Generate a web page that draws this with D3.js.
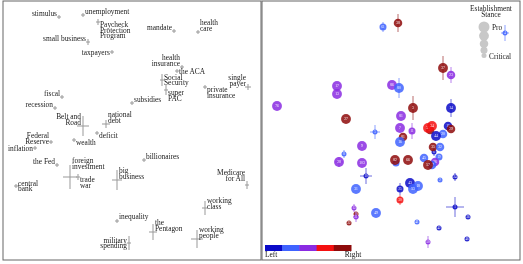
<!DOCTYPE html>
<html>
<head>
<meta charset="utf-8">
<script src="https://cdn.jsdelivr.net/npm/d3@7"></script>
<style>
  body { margin: 0; background: #fff; }
  svg { will-change: transform; }
  text { font-family: "Liberation Serif", "DejaVu Serif", serif; }
</style>
</head>
<body>
<div id="container"></div>
<script>
"use strict";

const width = 523;
const height = 264;

// ---- left panel: words ----
const words = [
  "stimulus", "unemployment", "Paycheck\nProtection\nProgram", "small business", "taxpayers",
  "mandate", "health\ncare", "health\ninsurance", "the ACA", "Social\nSecurity",
  "super\nPAC", "private\ninsurance", "single\npayer", "subsidies", "fiscal",
  "recession", "Belt and\nRoad", "national\ndebt", "deficit", "Federal\nReserve",
  "wealth", "inflation", "the Fed", "foreign\ninvestment", "trade\nwar",
  "big\nbusiness", "billionaires", "central\nbank", "Medicare\nfor All", "working\nclass",
  "inequality", "the\nPentagon", "working\npeople", "military\nspending"
];
const wordX = [
  -0.73, -0.49, -0.34, -0.44, -0.20,
  0.42, 0.66, 0.50, 0.45, 0.30,
  0.34, 0.73, 1.16, 0.00, -0.70,
  -0.77, -0.49, -0.26, -0.35, -0.81,
  -0.58, -0.97, -0.75, -0.62, -0.54,
  -0.15, 0.12, -1.16, 1.15, 0.73,
  -0.15, 0.21, 0.65, -0.03
];
const wordY = [
  1.135, 1.155, 1.085, 0.885, 0.785,
  0.995, 0.985, 0.635, 0.595, 0.505,
  0.405, 0.435, 0.435, 0.275, 0.335,
  0.225, 0.045, 0.065, -0.025, -0.115,
  -0.095, -0.175, -0.345, -0.465, -0.465,
  -0.495, -0.295, -0.555, -0.545, -0.775,
  -0.905, -1.015, -1.085, -1.125
];
const wordErrX = [
  0.02, 0.02, 0.02, 0.02, 0.02,
  0.02, 0.02, 0.02, 0.02, 0.02,
  0.02, 0.02, 0.03, 0.02, 0.02,
  0.02, 0.06, 0.04, 0.02, 0.02,
  0.02, 0.02, 0.02, 0.07, 0.02,
  0.05, 0.02, 0.02, 0.02, 0.03,
  0.02, 0.04, 0.06, 0.02
];
const wordErrY = [
  0.02, 0.02, 0.03, 0.03, 0.02,
  0.02, 0.02, 0.02, 0.02, 0.06,
  0.05, 0.02, 0.03, 0.02, 0.02,
  0.02, 0.10, 0.04, 0.02, 0.02,
  0.02, 0.02, 0.02, 0.12, 0.03,
  0.10, 0.02, 0.02, 0.04, 0.07,
  0.02, 0.08, 0.09, 0.07
];
// label side relative to its point: e/w then n/s/m
const wordPlace = [
  "wn", "en", "es", "wn", "wm",
  "wn", "en", "wn", "em", "em",
  "es", "es", "wn", "en", "wn",
  "wn", "wn", "en", "es", "wn",
  "es", "wm", "wn", "en", "es",
  "en", "en", "em", "wn", "en",
  "en", "en", "en", "wm"
];
// extra vertical nudge of a label (px)
const wordDy = [
  0, 0, 0, 0, 0,
  0, 0, 0, 0, 0,
  0, 0, 0, 0, 0,
  0, 0, 0, 0, 3,
  0, 0, 0, -7, 0,
  0, 0, 0, -3, 2,
  -1, 0, 0, 0
];

// ---- right panel: outlets ----
const outletId = [
  "61", "38", "4", "37", "23", "17", "13", "86", "80", "76",
  "27", "5", "9", "8", "28", "103", "3", "14", "81", "7",
  "11", "33", "34", "39", "15", "29", "44", "20", "81", "16",
  "35", "32", "6", "45", "19", "26", "82", "40", "66", "57",
  "47", "10", "31", "49", "12", "18", "21", "22", "2", "24",
  "43", "48", "53", "25", "30", "1", "36", "41", "42", "46",
  "50"
];
const outletX = [
  -0.08, 0.07, 1.14, 0.52, 0.60, -0.54, -0.54, 0.01, 0.08, -1.14,
  -0.45, -0.16, -0.29, -0.47, -0.52, -0.29, 0.22, 0.60, 0.10, 0.09,
  0.21, 0.37, 0.41, 0.39, 0.57, 0.60, 0.45, 0.52, 0.12, 0.09,
  0.42, 0.49, 0.43, 0.33, 0.48, 0.44, 0.04, 0.05, 0.17, 0.37,
  0.41, -0.25, -0.35, -0.15, -0.37, -0.35, -0.35, -0.42, 0.49, 0.64,
  0.19, 0.27, 0.22, 0.09, 0.09, 0.64, 0.77, 0.26, 0.48, 0.76,
  0.37
];
const outletY = [
  1.035, 1.075, 0.975, 0.625, 0.555, 0.445, 0.365, 0.455, 0.425, 0.245,
  0.115, -0.015, -0.155, -0.235, -0.315, -0.325, 0.225, 0.225, 0.145, 0.025,
  -0.005, 0.025, 0.045, 0.005, 0.045, 0.015, -0.055, -0.035, -0.065, -0.115,
  -0.165, -0.165, -0.215, -0.275, -0.265, -0.315, -0.295, -0.325, -0.295, -0.345,
  -0.345, -0.455, -0.585, -0.825, -0.775, -0.835, -0.865, -0.925, -0.495, -0.465,
  -0.525, -0.555, -0.585, -0.585, -0.695, -0.765, -0.865, -0.915, -0.975, -1.085,
  -1.115
];
const outletErrX = [
  0, 0, 0.04, 0, 0, 0, 0, 0, 0, 0,
  0, 0.05, 0, 0, 0.04, 0, 0, 0, 0, 0,
  0, 0, 0, 0, 0, 0, 0, 0, 0, 0,
  0, 0, 0, 0, 0, 0, 0, 0, 0, 0,
  0, 0.06, 0, 0, 0, 0, 0.03, 0, 0, 0,
  0, 0, 0, 0, 0, 0.09, 0, 0, 0, 0,
  0
];
const outletErrY = [
  0.05, 0.09, 0.08, 0.12, 0.08, 0, 0, 0, 0.10, 0,
  0, 0.07, 0, 0.04, 0.05, 0, 0.12, 0.09, 0, 0,
  0.08, 0, 0, 0, 0, 0, 0, 0, 0, 0,
  0, 0, 0.04, 0, 0, 0, 0, 0, 0, 0,
  0, 0.08, 0, 0, 0.04, 0, 0.05, 0, 0, 0.04,
  0, 0, 0, 0.06, 0.05, 0.10, 0, 0, 0, 0,
  0.06
];
// 0 = Left ... 4 = Right
const outletLean = [
  1, 4, 1, 4, 2, 2, 2, 2, 1, 2,
  4, 1, 2, 1, 2, 2, 4, 0, 2, 2,
  2, 3, 3, 4, 0, 4, 0, 1, 4, 1,
  4, 1, 0, 1, 1, 2, 4, 1, 4, 4,
  1, 0, 1, 1, 2, 4, 2, 4, 1, 0,
  0, 1, 1, 0, 3, 0, 0, 1, 0, 0,
  2
];
// 1 = Critical ... 5 = Pro
const outletStance = [
  2, 3, 1, 4, 3, 4, 4, 4, 4, 4,
  4, 1, 4, 1, 4, 4, 4, 4, 4, 4,
  2, 4, 4, 3, 3, 3, 4, 3, 3, 4,
  3, 3, 1, 3, 2, 3, 4, 2, 4, 4,
  3, 1, 4, 4, 1, 1, 1, 1, 1, 1,
  4, 4, 4, 2, 2, 1, 1, 1, 1, 1,
  1
];

const leanColors = ["#0a0ac8", "#3f63ff", "#8a2be2", "#f41010", "#8e0b0b"];
const leanLabels = ["Left", "Right"];
const stanceLevels = [5, 4, 3, 2, 1];

const svg = d3.select("#container").append("svg")
  .attr("width", width).attr("height", height);

const yScale = d3.scaleLinear().domain([-1.295, 1.295]).range([260, 1]);
const xLeft = d3.scaleLinear().domain([-1.29, 1.29]).range([3, 261]);
const xRight = d3.scaleLinear().domain([-1.29, 1.29]).range([262, 520]);
const rScale = d3.scaleSqrt().domain([1, 5]).range([2.5, 5.5]);
const color = d3.scaleOrdinal().domain(d3.range(5)).range(leanColors);

// frames
[xLeft, xRight].forEach((xs) => {
  svg.append("rect")
    .attr("x", xs.range()[0]).attr("y", yScale.range()[1])
    .attr("width", xs.range()[1] - xs.range()[0])
    .attr("height", yScale.range()[0] - yScale.range()[1])
    .attr("fill", "none").attr("stroke", "#666").attr("stroke-width", 1);
});

// ---- left panel ----
const wordData = words.map((w, i) => ({
  w, x: wordX[i], y: wordY[i], ex: wordErrX[i], ey: wordErrY[i],
  place: wordPlace[i], dy: wordDy[i]
}));

const gw = svg.append("g");
wordData.forEach((d) => {
  const px = xLeft(d.x), py = yScale(d.y);
  gw.append("line")
    .attr("x1", xLeft(d.x - d.ex)).attr("x2", xLeft(d.x + d.ex))
    .attr("y1", py).attr("y2", py)
    .attr("stroke", "#999").attr("stroke-width", 1);
  gw.append("line")
    .attr("x1", px).attr("x2", px)
    .attr("y1", yScale(d.y - d.ey)).attr("y2", yScale(d.y + d.ey))
    .attr("stroke", "#999").attr("stroke-width", 1);

  const lines = d.w.split("\n");
  const lh = 5.6;
  const east = d.place[0] === "e";
  let y0;
  if (d.place[1] === "n") y0 = py - 1 - (lines.length - 1) * lh;
  else if (d.place[1] === "s") y0 = py + 5;
  else y0 = py + 2.5 - (lines.length - 1) * lh / 2;
  y0 += d.dy;
  const t = gw.append("text")
    .attr("font-size", "7.4px")
    .attr("fill", "#1a1a1a")
    .attr("text-anchor", east ? "start" : "end");
  lines.forEach((l, k) => {
    t.append("tspan").attr("x", px + (east ? 2 : -2)).attr("y", y0 + k * lh).text(l);
  });
});

// ---- right panel ----
const outlets = outletId.map((id, i) => ({
  id, x: outletX[i], y: outletY[i], ex: outletErrX[i], ey: outletErrY[i],
  lean: outletLean[i], stance: outletStance[i]
})).sort((a, b) => a.stance - b.stance);

const go = svg.append("g");
outlets.forEach((d) => {
  const px = xRight(d.x), py = yScale(d.y);
  const c = color(d.lean);
  if (d.ex > 0) {
    go.append("line")
      .attr("x1", xRight(d.x - d.ex)).attr("x2", xRight(d.x + d.ex))
      .attr("y1", py).attr("y2", py)
      .attr("stroke", c).attr("stroke-opacity", 0.6).attr("stroke-width", 1);
  }
  if (d.ey > 0) {
    go.append("line")
      .attr("x1", px).attr("x2", px)
      .attr("y1", yScale(d.y - d.ey)).attr("y2", yScale(d.y + d.ey))
      .attr("stroke", c).attr("stroke-opacity", 0.6).attr("stroke-width", 1);
  }
  go.append("circle")
    .attr("cx", px).attr("cy", py).attr("r", rScale(d.stance))
    .attr("fill", c).attr("fill-opacity", 0.85);
  go.append("text")
    .attr("x", px).attr("y", py + 1.3)
    .attr("text-anchor", "middle")
    .attr("font-family", "Liberation Sans, sans-serif")
    .attr("font-size", d.stance >= 3 ? "3.6px" : "3px")
    .attr("fill", "#fff")
    .text(d.id);
});

// ---- stance legend ----
const gl = svg.append("g");
gl.append("text").attr("x", 491).attr("y", 11).attr("text-anchor", "middle")
  .attr("font-size", "7.4px").attr("fill", "#222").text("Establishment");
gl.append("text").attr("x", 491).attr("y", 17).attr("text-anchor", "middle")
  .attr("font-size", "7.4px").attr("fill", "#222").text("Stance");
let ly = 27;
stanceLevels.forEach((s, i) => {
  if (i > 0) ly += (rScale(stanceLevels[i - 1]) + rScale(s)) * 0.85;
  gl.append("circle").attr("cx", 484).attr("cy", ly).attr("r", rScale(s))
    .attr("fill", "#c8c8c8");
});
gl.append("text").attr("x", 492).attr("y", 30)
  .attr("font-size", "7.4px").attr("fill", "#222").text("Pro");
gl.append("text").attr("x", 489).attr("y", 59)
  .attr("font-size", "7.4px").attr("fill", "#222").text("Critical");

// ---- lean colour bar ----
const barX = d3.scaleBand().domain(d3.range(5)).range([265, 351]);
svg.append("g").selectAll("rect").data(d3.range(5)).join("rect")
  .attr("x", (d) => barX(d)).attr("y", 245)
  .attr("width", barX.bandwidth() + 0.5).attr("height", 6)
  .attr("fill", (d) => color(d));
svg.append("text").attr("x", 265).attr("y", 257)
  .attr("font-size", "7.4px").attr("fill", "#111").text(leanLabels[0]);
svg.append("text").attr("x", 353).attr("y", 257).attr("text-anchor", "middle")
  .attr("font-size", "7.4px").attr("fill", "#111").text(leanLabels[1]);
</script>
</body>
</html>
